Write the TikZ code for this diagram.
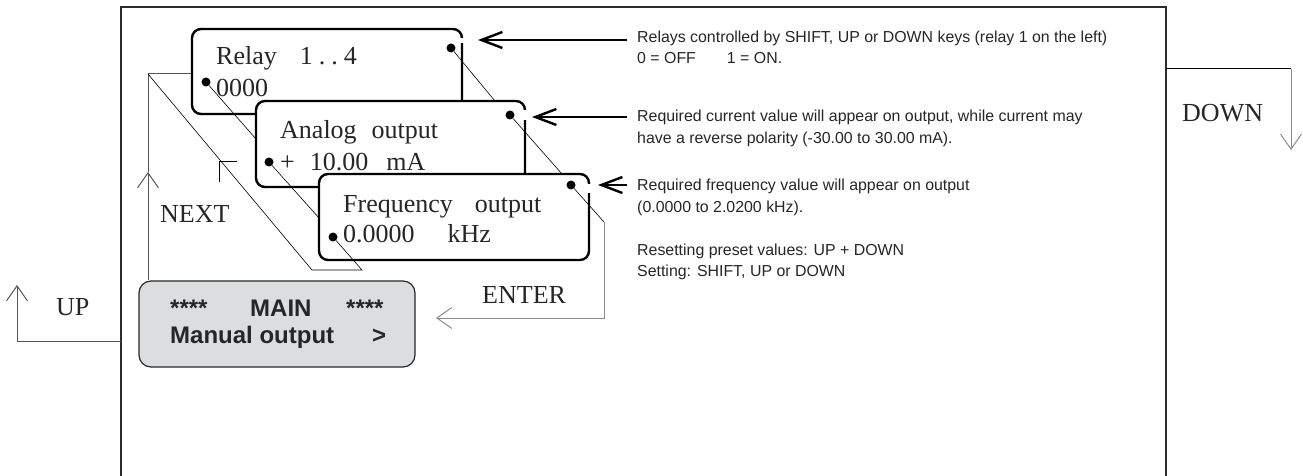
\documentclass[tikz,border=0pt]{standalone}
\usepackage{fontspec}
\setmainfont{Liberation Serif}
\newfontfamily\sansf{Liberation Sans}
\usetikzlibrary{arrows.meta}
\definecolor{framec}{HTML}{2B2B2B}
\definecolor{lcdgrey}{HTML}{DCDDDF}
\definecolor{linegrey}{HTML}{8C8C8C}
\definecolor{keygrey}{HTML}{555555}
% #1 left, #2 top, #3 right, #4 bottom, #5 lower end of the gap in the right edge
\newcommand\lcdbox[5]{%
  \draw[boxline, fill=white, rounded corners=9pt] (#1,#2) rectangle (#3,#4);
  \fill[white] (#3-2.5,#2+9.5) rectangle (#3+2.5,#5);
}
\begin{document}
\begin{tikzpicture}[x=1pt,y=-1pt,
  framel/.style={line width=2.6pt, framec},
  boxline/.style={line width=2.4pt, draw=black, line join=round},
  thinl/.style={line width=0.6pt, black},
  greyline/.style={line width=1pt, linegrey},
  keyline/.style={line width=1pt, keygrey},
  openarrow/.style={-{Straight Barb[length=15pt,width=21pt]}},
  bigarrow/.style={line width=2.4pt, black, -{Straight Barb[length=21pt,width=16pt]}},
  dot/.style={circle, fill=black, inner sep=0pt, minimum size=9pt},
  lcdtext/.style={font=\fontsize{26}{30}\selectfont, anchor=base west, inner sep=0pt, text=black!85},
  keylabel/.style={font=\fontsize{26}{30}\selectfont, anchor=base west, inner sep=0pt, text=black!85},
  note/.style={font=\sansf\fontsize{15.9}{18}\selectfont, anchor=base west, inner sep=0pt, text=black!85},
  maintext/.style={font=\sansf\bfseries\fontsize{24}{28}\selectfont, anchor=base west, inner sep=0pt, text=black!85},
  mainbox/.style={draw=black!85, fill=lcdgrey, line width=1.2pt, rounded corners=12pt, minimum width=276pt, minimum height=86pt, inner sep=0pt}
]
\useasboundingbox (0,0) rectangle (1303,476);

% frame
\coordinate (fBL) at (121,480);
\coordinate (fTL) at (121,7);
\coordinate (fTR) at (1166,7);
\coordinate (fBR) at (1166,480);
\draw[framel] (fBL) -- (fTL) -- (fTR) -- (fBR);

% UP
\coordinate (upA) at (121,341);
\coordinate (upB) at (17,341);
\coordinate (upT) at (17,285);
\draw[keyline, openarrow] (upA) -- (upB) -- (upT);
\node[keylabel] (uplbl) at (56,315) {UP};

% DOWN
\coordinate (dnA) at (1166,69);
\coordinate (dnB) at (1291,69);
\coordinate (dnT) at (1291,150);
\draw[thinl, line width=1pt] (dnA) -- (dnB);
\draw[greyline, openarrow] (dnB) -- (dnT);
\node[keylabel] (dnlbl) at (1182,122) {DOWN};

% main box
\node[mainbox] (main) at (277,324) {};
\node[maintext] (m1) at (170,316) {****};
\node[maintext] (m2) at (250,316) {MAIN};
\node[maintext] (m3) at (346,316) {****};
\node[maintext] (m4) at (170,343) {Manual output};
\node[maintext] (m5) at (372,343) {>};

% NEXT path
\coordinate (nTop) at (148,74);
\coordinate (nMid) at (148,172);
\coordinate (rLeft) at (192,74);
\coordinate (dB) at (312,270);
\coordinate (dA) at (362,270);
\draw[keyline, openarrow] (nTop |- main.north) -- (nMid);
\draw[keyline] (nMid) -- (nTop) -- (rLeft);
\node[keylabel] (nextlbl) at (160,222) {NEXT};
\coordinate (gA) at (219,182);
\coordinate (gB) at (219,161);
\coordinate (gC) at (237,161);
\draw[thinl, line width=0.8pt] (gA) -- (gB) -- (gC);

% relay box
\lcdbox{192}{29}{462}{114}{43}
\node[lcdtext] (t1) at (216,65) {Relay\hspace{23pt}1\hspace{6pt}.\hspace{6pt}.\hspace{6pt}4};
\node[lcdtext] (t2) at (216,97) {0000};
\node[dot] (r1) at (451,48) {};
\node[dot] (r2) at (206,82) {};
\coordinate (r1e) at (495,101);
\coordinate (r2e) at (256,139);
\draw[thinl] (r1) -- (r1e);
\draw[thinl] (r2) -- (r2e);

% analog box
\lcdbox{256}{101}{525}{187}{120}
\node[lcdtext] (t3) at (280,139) {Analog\hspace{15pt}output};
\node[lcdtext] (t4) at (280,170) {+\hspace{15pt}10.00\hspace{18pt}mA};
\node[dot] (a1) at (510,115) {};
\node[dot] (a2) at (269,162) {};
\coordinate (a1e) at (562,174);
\coordinate (a2e) at (319,218);
\draw[thinl] (a1) -- (a1e);
\draw[thinl] (a2) -- (a2e);

% frequency box
\lcdbox{319}{174}{589}{260}{193}
\node[lcdtext] (t5) at (343,212) {Frequency\hspace{22pt}output};
\node[lcdtext] (t6) at (343,242) {0.0000\hspace{33pt}kHz};
\node[dot] (q1) at (571,185) {};
\node[dot] (q2) at (333,237) {};

% ENTER path
\coordinate (eA) at (604,222);
\coordinate (eB) at (604,318);
\coordinate (eT) at (436,318);
\draw[thinl] (q1) -- (eA);
\draw[greyline, openarrow] (eA) -- (eB) -- (eT);
\node[keylabel] (enterlbl) at (482,303) {ENTER};

% diagonal back path
\draw[thinl] (q2) -- (dA) -- (dB) -- (nTop);

% annotation arrows
\coordinate (n1s) at (627,40);  \coordinate (n1t) at (478,40);
\coordinate (n2s) at (627,117); \coordinate (n2t) at (532,117);
\coordinate (n3s) at (627,185); \coordinate (n3t) at (598,185);
\draw[bigarrow] (n1s) -- (n1t);
\draw[bigarrow] (n2s) -- (n2t);
\draw[bigarrow] (n3s) -- (n3t);

% notes
\node[note] (x1) at (637,43) {Relays controlled by SHIFT, UP or DOWN keys (relay 1 on the left)};
\node[note] (x2) at (637,64) {0 = OFF\hspace{31pt}1 = ON.};
\node[note] (x3) at (637,122) {Required current value will appear on output, while current may};
\node[note] (x4) at (637,143) {have a reverse polarity (-30.00 to 30.00 mA).};
\node[note] (x5) at (637,190) {Required frequency value will appear on output};
\node[note] (x6) at (637,212) {(0.0000 to 2.0200 kHz).};
\node[note] (x7) at (637,255) {Resetting preset values: UP + DOWN};
\node[note] (x8) at (637,276) {Setting: SHIFT, UP or DOWN};
\end{tikzpicture}
\end{document}
